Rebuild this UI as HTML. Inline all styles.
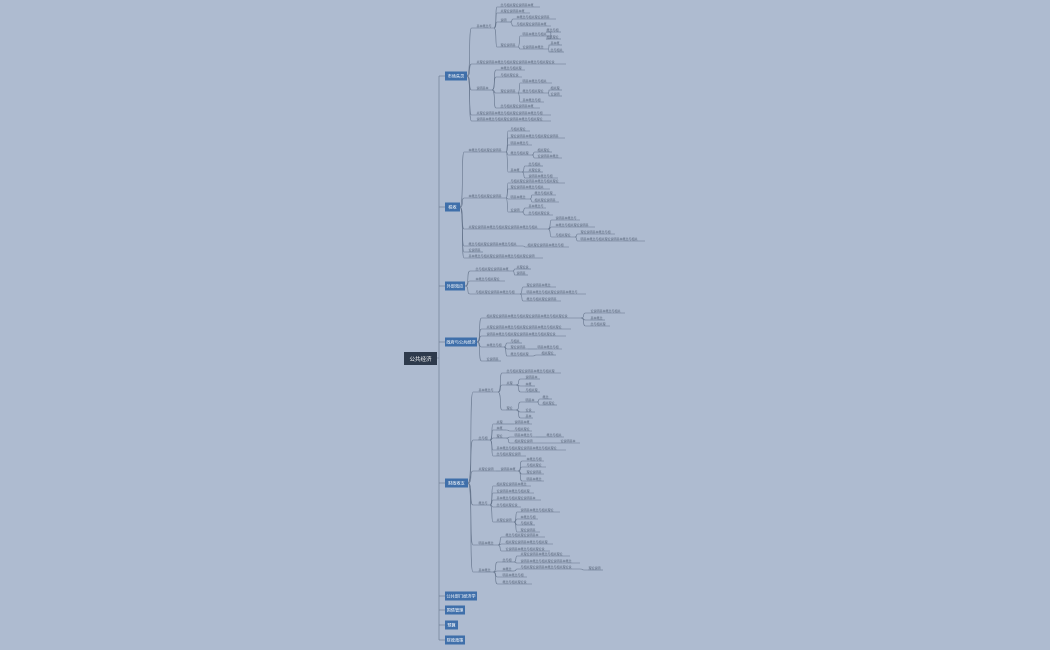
<!DOCTYPE html>
<html><head><meta charset="utf-8"><style>
html,body{margin:0;padding:0;background:#aebbd0;width:1050px;height:650px;overflow:hidden}
svg{display:block}
text{font-family:"Liberation Sans","Noto Sans CJK SC",sans-serif}
</style></head><body>
<svg id="s" width="1050" height="650" viewBox="0 0 1050 650" xmlns="http://www.w3.org/2000/svg">
<rect width="1050" height="650" fill="#aebbd0"/>
<g id="lines" fill="none" stroke="#66758c" stroke-width="0.6"></g>
<g id="nodes"></g>
<rect x="404" y="352" width="33" height="13" fill="#2e3a4c"/>
<text x="420.5" y="361" font-size="5.5" fill="#fff" text-anchor="middle">公共经济</text>
</svg>
<script>
var L="基本概念与相关理论说明";
function n(x,y,w,c){return [x,y,w,c||[]];}
var B=[
 [445,76,22,"市场失灵",[
  n(476,28,18,[n(500,7,40),n(500,13,30),n(500,22,10,[n(516,19,40),n(516,26,35)]),n(500,47,18,[n(522,36,30,[n(546,32,15),n(546,39,15)]),n(522,49,26,[n(550,45,12),n(550,52,14)])])]),
  n(476,64,90),
  n(476,90,16,[n(500,70,25),n(500,77,22),n(500,93,18,[n(522,83,30),n(522,93,26,[n(550,90,12),n(550,96,12)]),n(522,102,22)]),n(500,108,40)]),
  n(476,115,75),n(476,121,75)]],
 [445,207,15,"税收",[
  n(468,152,38,[n(510,131,20),n(510,138,55),n(510,145,22),n(510,155,22,[n(537,152,15),n(537,158,25)]),n(510,172,12,[n(528,166,15),n(528,172,15),n(528,178,30)])]),
  n(468,198,38,[n(510,183,55),n(510,189,40),n(510,199,20,[n(534,195,22),n(534,202,25)]),n(510,212,12,[n(528,208,18),n(528,215,25)])]),
  n(468,229,80,[n(555,220,25),n(555,227,40),n(555,237,20,[n(580,234,35),n(580,241,65)])]),
  n(468,246,55,[n(527,247,42)]),n(468,252,15),n(468,258,75)]],
 [445,286,20,"外部效应",[
  n(475,271,38,[n(516,269,15),n(516,275,12)]),n(475,281,30),
  n(475,294,45,[n(526,287,30),n(526,294,60),n(526,301,35)])]],
 [445,342,32,"政府与公共经济",[
  n(486,318,95,[n(590,313,35),n(590,320,15),n(590,326,20)]),n(486,329,85),n(486,336,80),
  n(486,347,18,[n(510,343,12),n(510,349,18,[n(537,349,25)]),n(510,356,22,[n(541,355,15)])]),n(486,361,15)]],
 [445,483,23,"财政收支",[
  n(478,392,20,[n(506,373,55),n(506,385,10,[n(525,379,15),n(525,386,10),n(525,392,15)]),n(506,410,10,[n(525,402,12,[n(542,399,10),n(542,405,15)]),n(525,412,10),n(525,418,8)])]),
  n(478,440,12,[n(496,424,8,[n(514,424,18)]),n(496,430,10,[n(514,431,18)]),n(496,438,10,[n(514,437,22,[n(546,437,18)]),n(514,443,22,[n(560,443,20)])]),n(496,450,70),n(496,456,30)]),
  n(478,471,18,[n(500,471,18,[n(526,461,18),n(526,467,20),n(526,474,18),n(526,481,18)])]),
  n(478,505,12,[n(496,486,35),n(496,493,38),n(496,500,45),n(496,507,25),n(496,522,18,[n(520,512,40),n(520,519,18),n(520,525,15),n(520,532,20)])]),
  n(478,545,20,[n(505,537,40),n(505,544,48),n(505,551,45)]),
  n(478,572,15,[n(502,562,12,[n(520,556,50),n(520,563,60)]),n(502,571,12,[n(520,569,60,[n(588,570,15)])]),n(502,577,25),n(502,584,30)])]],
 [445,596,32,"公共部门经济学",[]],
 [445,610,20,"国债管理",[]],
 [445,625,13,"预算",[]],
 [445,640,20,"财政政策",[]]
];
var NS="http://www.w3.org/2000/svg",lg=document.getElementById("lines"),ng=document.getElementById("nodes");
function el(t,a,p){var e=document.createElementNS(NS,t);for(var k in a)e.setAttribute(k,a[k]);p.appendChild(e);return e;}
function curve(x1,y1,x2,y2){var m=x1+(x2-x1)*0.5;el("path",{d:"M"+x1+" "+y1+" C"+m+" "+y1+" "+(x1+1)+" "+y2+" "+m+" "+y2+" L"+x2+" "+y2},lg);}
el("path",{d:"M437 358 H439 M439 76 V640"},lg);
var cnt=0;
function leaf(c,px,py){var x=c[0],y=c[1],w=c[2];curve(px,py,x,y);
 el("line",{x1:x,y1:y,x2:x+w,y2:y},lg);
 var len=Math.max(2,Math.floor(w/3.4));var s="";for(var i=0;i<len;i++)s+=L[(i+cnt)%L.length];cnt+=3;
 var t=el("text",{x:x+0.5,y:y-1,"font-size":"3",fill:"#5a677b"},ng);t.textContent=s;
 c[3].forEach(function(d){leaf(d,x+w,y);});}
B.forEach(function(b){var x=b[0],y=b[1],w=b[2];
 el("path",{d:"M439 "+y+" H"+x},lg);
 el("rect",{x:x,y:y-4.5,width:w,height:9,fill:"#3f6faa"},ng);
 var t=el("text",{x:x+w/2,y:y+1.7,"font-size":"4.2",fill:"#fff","text-anchor":"middle"},ng);t.textContent=b[3];
 b[4].forEach(function(c){leaf(c,x+w,y);});});
</script>
</body></html>
